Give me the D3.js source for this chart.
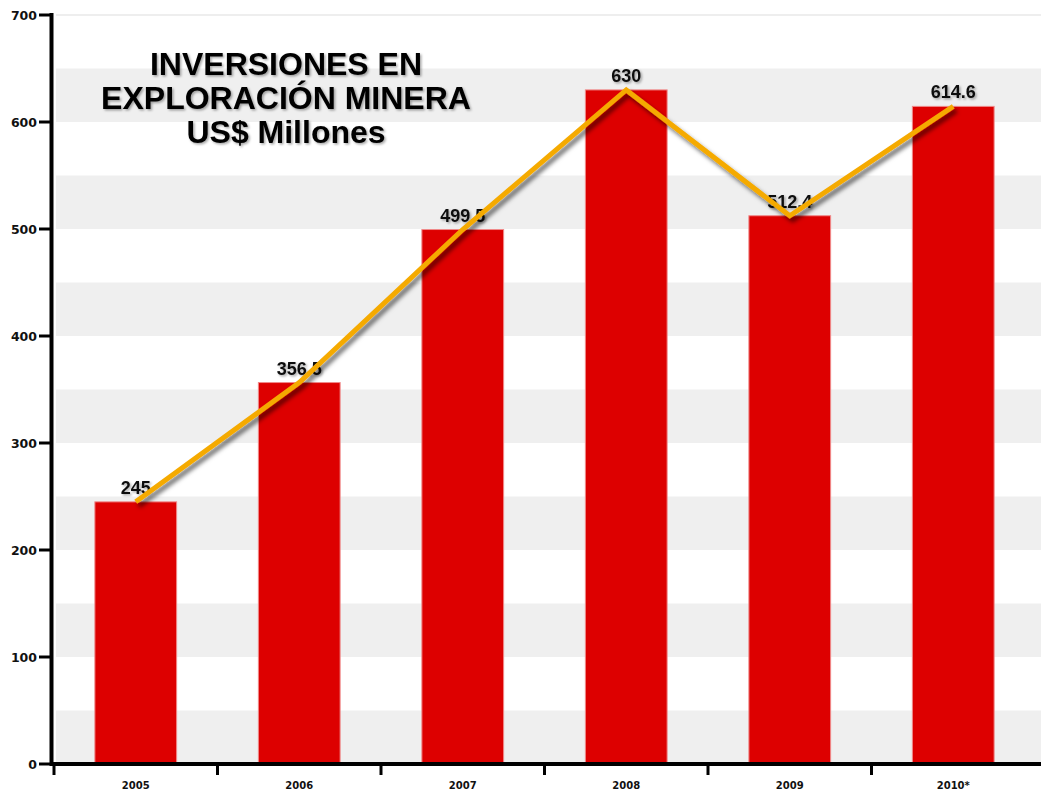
<!DOCTYPE html>
<meta charset="utf-8">
<style>
  body { margin: 0; background: #fff; }
  svg { display: block; font-family: "Liberation Sans", Arial, sans-serif; }
</style>
<svg width="1041" height="792"></svg>
<script src="https://cdn.jsdelivr.net/npm/d3@7/dist/d3.min.js"></script>
<script>

// data
var years = ["2005", "2006", "2007", "2008", "2009", "2010*"];
var values = [245, 356.5, 499.5, 630, 512.4, 614.6];
var labels = ["245", "356.5", "499.5", "630", "512.4", "614.6"];
var yTicks = [0, 100, 200, 300, 400, 500, 600, 700];
var titleLines = ["INVERSIONES EN", "EXPLORACIÓN MINERA", "US$ Millones"];

var svg = d3.select("svg");

// shadow filters
var defs = svg.append("defs");
defs.append("filter").attr("id", "lineShadow")
  .attr("x", "-10%").attr("y", "-10%").attr("width", "130%").attr("height", "130%")
  .append("feDropShadow")
  .attr("dx", 3).attr("dy", 4).attr("stdDeviation", 2)
  .attr("flood-color", "#000").attr("flood-opacity", 0.55);
defs.append("filter").attr("id", "textShadow")
  .append("feDropShadow")
  .attr("dx", 1.5).attr("dy", 1.5).attr("stdDeviation", 1)
  .attr("flood-color", "#000").attr("flood-opacity", 0.35);

var y = d3.scaleLinear().domain([0, 700]).range([764, 15]);
var x = d3.scaleBand().domain(years).range([54, 1035])
  .paddingInner(0.5).paddingOuter(0.25);
var step = x.step();

// alternating gray stripes every 50
var stripes = d3.range(0, 700, 100);
svg.selectAll("rect.stripe").data(stripes)
  .enter().append("rect")
  .attr("class", "stripe")
  .attr("x", 56)
  .attr("width", 1041 - 56)
  .attr("y", function(d) { return y(d + 50); })
  .attr("height", function(d) { return y(d) - y(d + 50); })
  .attr("fill", "#efefef");

// faint top line
svg.append("line")
  .attr("x1", 56).attr("x2", 1041)
  .attr("y1", y(700)).attr("y2", y(700))
  .attr("stroke", "#eee").attr("stroke-width", 2);

// bars
svg.selectAll("rect.bar").data(values)
  .enter().append("rect")
  .attr("class", "bar")
  .attr("x", function(d, i) { return x(years[i]); })
  .attr("width", x.bandwidth())
  .attr("y", function(d) { return y(d); })
  .attr("height", function(d) { return y(0) - y(d); })
  .attr("fill", "#dd0000")
  .attr("stroke", "#f08a8a")
  .attr("stroke-width", 1);

// value labels
svg.selectAll("text.val").data(values)
  .enter().append("text")
  .attr("class", "val")
  .attr("x", function(d, i) { return x(years[i]) + x.bandwidth() / 2; })
  .attr("y", function(d) { return y(d) - 8; })
  .attr("text-anchor", "middle")
  .attr("font-size", 18)
  .attr("font-weight", "bold")
  .attr("fill", "#111")
  .attr("filter", "url(#textShadow)")
  .text(function(d, i) { return labels[i]; });

// orange line
var line = d3.line()
  .x(function(d, i) { return x(years[i]) + x.bandwidth() / 2; })
  .y(function(d) { return y(d); });
svg.append("path")
  .datum(values)
  .attr("d", line)
  .attr("fill", "none")
  .attr("stroke", "#f5aa00")
  .attr("stroke-width", 5)
  .attr("stroke-linejoin", "miter")
  .attr("filter", "url(#lineShadow)");

// y axis
var yAxis = svg.append("g");
yAxis.append("line")
  .attr("x1", 51.5).attr("x2", 51.5)
  .attr("y1", y(700) - 2).attr("y2", y(0) + 2)
  .attr("stroke", "#000").attr("stroke-width", 4);
yAxis.selectAll("line.tick").data(yTicks)
  .enter().append("line")
  .attr("class", "tick")
  .attr("x1", 39).attr("x2", 52)
  .attr("y1", function(d) { return y(d); })
  .attr("y2", function(d) { return y(d); })
  .attr("stroke", "#000").attr("stroke-width", 3);
yAxis.selectAll("text").data(yTicks)
  .enter().append("text")
  .attr("x", 37)
  .attr("y", function(d) { return y(d); })
  .attr("dy", "0.36em")
  .attr("text-anchor", "end")
  .attr("font-family", "DejaVu Sans, sans-serif")
  .attr("font-size", 12.5)
  .attr("font-weight", "bold")
  .attr("fill", "#111")
  .text(function(d) { return d; });

// x axis
var xAxis = svg.append("g");
xAxis.append("line")
  .attr("x1", 50).attr("x2", 1041)
  .attr("y1", y(0)).attr("y2", y(0))
  .attr("stroke", "#000").attr("stroke-width", 4);
var bounds = years.map(function(d) { return x(d) - step * 0.25; });
xAxis.selectAll("line.tick").data(bounds)
  .enter().append("line")
  .attr("class", "tick")
  .attr("x1", function(d) { return d; })
  .attr("x2", function(d) { return d; })
  .attr("y1", y(0)).attr("y2", y(0) + 11)
  .attr("stroke", "#000").attr("stroke-width", 3);
xAxis.selectAll("text").data(years)
  .enter().append("text")
  .attr("x", function(d) { return x(d) + x.bandwidth() / 2; })
  .attr("y", 789)
  .attr("text-anchor", "middle")
  .attr("font-family", "DejaVu Sans, sans-serif")
  .attr("font-size", 10)
  .attr("font-weight", "bold")
  .attr("fill", "#111")
  .text(function(d) { return d; });

// title
svg.append("g").selectAll("text").data(titleLines)
  .enter().append("text")
  .attr("x", 286)
  .attr("y", function(d, i) { return 75 + i * 34; })
  .attr("text-anchor", "middle")
  .attr("font-size", 32)
  .attr("font-weight", "bold")
  .attr("fill", "#000")
  .attr("filter", "url(#textShadow)")
  .text(function(d) { return d; });
</script>
